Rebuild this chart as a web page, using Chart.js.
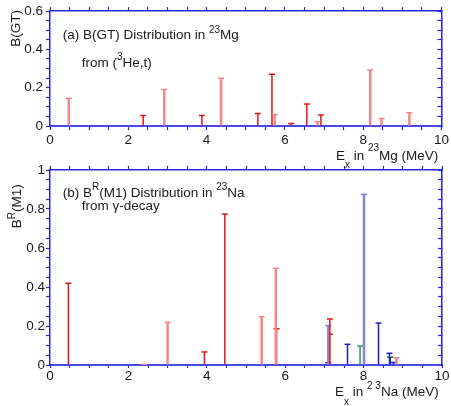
<!DOCTYPE html>
<html>
<head>
<meta charset="utf-8">
<script src="https://cdn.jsdelivr.net/npm/chart.js@4.4.1/dist/chart.umd.min.js"></script>
<style>
body { margin: 0; background: #fff; }
#wrap { position: relative; width: 451px; height: 406px; overflow: hidden; }
canvas { position: absolute; left: 0; }
#top { top: 0; }
#bot { top: 160px; }
</style>
</head>
<body>
<div id="wrap">
  <canvas id="top" width="451" height="172"></canvas>
  <canvas id="bot" width="451" height="246"></canvas>
</div>
<script>
// tick labels
var xTickLabels = [0, 2, 4, 6, 8, 10];
var gtTickLabels = [0, 0.2, 0.4, 0.6];
var m1TickLabels = [0, 0.2, 0.4, 0.6, 0.8, 1];

// (a) B(GT) in 23Mg, Ex in MeV
var gtRedE = [2.38, 3.88, 5.31, 5.67, 6.16, 6.56, 6.92];
var gtRedB = [0.055, 0.055, 0.065, 0.27, 0.013, 0.115, 0.057];
var gtPaleE = [0.48, 2.92, 4.37, 5.74, 6.83, 8.18, 8.47, 9.18];
var gtPaleB = [0.145, 0.19, 0.25, 0.06, 0.024, 0.293, 0.039, 0.069];

// (b) B^R(M1) in 23Na
var m1RedE = [0.47, 3.94, 4.46, 5.78, 7.14];
var m1RedB = [0.419, 0.067, 0.774, 0.186, 0.236];
var m1PaleE = [2.40, 3.00, 5.40, 5.76, 8.84];
var m1PaleB = [0.003, 0.219, 0.248, 0.496, 0.037];
var m1BlueE = [7.59, 8.38, 8.66, 8.76];
var m1BlueB = [0.106, 0.215, 0.06, 0.013];
var m1PaleBlueE = [7.10, 8.01];
var m1PaleBlueB = [0.202, 0.875];
var m1GreenE = [7.91];
var m1GreenB = [0.097];
var m1DarkGreenE = [8.68];
var m1DarkGreenB = [0.04];
// lower limits shown as extra caps
var m1BlueLowE = [7.10];
var m1BlueLowB = [0.012];
var m1RedLowE = [7.14];
var m1RedLowB = [0.158];

var FONT = "'Liberation Sans', Arial, sans-serif";
var AXIS = '#2626d8';
var RED = '#e31414', PALE = '#f08a8a', BLUE = '#1c1cd2', PALEBLUE = '#8282e6';
var GREEN = '#3a9a4a', DKGREEN = '#0b6a22';

function pts(xs, ys) {
    return xs.map(function(x, i) { return {x: x, y: ys[i]}; });
}

function stems(xs, ys, color, w) {
    return [
        {type: 'bar', data: pts(xs, ys), backgroundColor: color, barThickness: w, grouped: false,
         borderWidth: 0, inflateAmount: 0},
        {type: 'scatter', data: pts(xs, ys), pointStyle: 'line', radius: 3, borderColor: color, borderWidth: 1.5}
    ];
}

function caps(xs, ys, color) {
    return {type: 'scatter', data: pts(xs, ys), pointStyle: 'line', radius: 3, borderColor: color, borderWidth: 1.5};
}

function pickLabel(list) {
    return function(v) {
        for (var i = 0; i < list.length; i++) {
            if (Math.abs(list[i] - v) < 1e-6) return String(list[i]);
        }
        return '';
    };
}

function richText(ctx, x, y, parts, size) {
    parts.forEach(function(p) {
        var shift = p[1] || 0;
        var s = shift ? size * 0.74 : size;
        ctx.font = s + 'px ' + FONT;
        ctx.fillText(p[0], x, y + shift);
        x += ctx.measureText(p[0]).width;
    });
}

function notes(items, offY) {
    return {
        id: 'notes',
        afterDraw: function(chart) {
            var ctx = chart.ctx;
            ctx.save();
            ctx.fillStyle = '#1a1a1a';
            ctx.textAlign = 'left';
            ctx.textBaseline = 'alphabetic';
            items.forEach(function(it) {
                ctx.save();
                ctx.translate(it.x, it.y - offY);
                if (it.rot) ctx.rotate(-Math.PI / 2);
                richText(ctx, 0, 0, it.parts, 13.5);
                ctx.restore();
            });
            ctx.restore();
        }
    };
}

function scales(yMax, yLabels, xH, xLen, xPad, yPad) {
    var tickFont = {family: FONT, size: 13.5};
    return {
        x: {
            type: 'linear', min: 0, max: 10, offset: false,
            border: {color: '#4a4ae2', width: 2},
            grid: {drawOnChartArea: false, offset: false, tickLength: xLen, tickColor: AXIS, tickWidth: 1.2},
            ticks: {stepSize: 0.5, autoSkip: false, maxRotation: 0, padding: xPad, color: '#1a1a1a',
                    font: tickFont, callback: pickLabel(xTickLabels)},
            afterFit: function(s) { s.height = xH; }
        },
        xTop: {
            type: 'linear', position: 'top', min: 0, max: 10, offset: false,
            border: {color: AXIS, width: 1.5},
            grid: {drawOnChartArea: false, offset: false, tickLength: 4, tickColor: AXIS, tickWidth: 1.2},
            ticks: {stepSize: 0.5, autoSkip: false, display: false},
            afterFit: function(s) { s.height = 10; }
        },
        y: {
            min: 0, max: yMax,
            border: {color: AXIS, width: 1.5},
            grid: {drawOnChartArea: false, tickLength: 4, tickColor: AXIS, tickWidth: 1.2},
            ticks: {stepSize: 0.05, autoSkip: false, padding: yPad, color: '#1a1a1a',
                    font: tickFont, callback: pickLabel(yLabels)},
            afterFit: function(s) { s.width = 50; }
        },
        yRight: {
            position: 'right', min: 0, max: yMax,
            border: {color: AXIS, width: 1.5},
            grid: {drawOnChartArea: false, tickLength: -4, tickColor: AXIS, tickWidth: 1.2},
            ticks: {stepSize: 0.05, autoSkip: false, display: false},
            afterFit: function(s) { s.width = 9; }
        }
    };
}

var baseOptions = function(sc) {
    return {
        responsive: false,
        animation: false,
        layout: {padding: 0},
        plugins: {legend: {display: false}, tooltip: {enabled: false}},
        scales: sc
    };
};

var topNotes = [
    {x: 62.7, y: 39.3, parts: [['(a) B(GT) Distribution in '], ['23', -6.5], ['Mg']]},
    {x: 81.7, y: 66.7, parts: [['from ('], ['3', -6.5], ['He,t)']]},
    {x: 20, y: 46.7, rot: true, parts: [['B(GT)']]},
    {x: 336, y: 160, parts: [['E'], ['x', 8], [' in '], ['23', -9], ['Mg (MeV)']]}
];

var botNotes = [
    {x: 62.7, y: 196.7, parts: [['(b) B'], ['R', -6.5], ['(M1) Distribution in '], ['23', -6.5], ['Na']]},
    {x: 81.7, y: 209.8, parts: [['from \u03b3-decay']]},
    {x: 21, y: 228.3, rot: true, parts: [['B'], ['R', -6.5], ['(M1)']]},
    {x: 335, y: 396, parts: [['E'], ['x', 8.5], [' in '], ['2 3', -7], ['Na (MeV)']]}
];

new Chart(document.getElementById('top'), {
    type: 'bar',
    data: {datasets: [].concat(
        stems(gtPaleE, gtPaleB, PALE, 2.5),
        stems(gtRedE, gtRedB, RED, 1.5)
    )},
    options: baseOptions(scales(0.6, gtTickLabels, 46, 4, 2, 3)),
    plugins: [notes(topNotes, 0)]
});

new Chart(document.getElementById('bot'), {
    type: 'bar',
    data: {datasets: [].concat(
        stems(m1PaleE, m1PaleB, PALE, 2.5),
        stems(m1RedE, m1RedB, RED, 1.5),
        stems(m1PaleBlueE, m1PaleBlueB, PALEBLUE, 2.5),
        stems(m1BlueE, m1BlueB, BLUE, 1.5),
        stems(m1GreenE, m1GreenB, GREEN, 1.5),
        stems(m1DarkGreenE, m1DarkGreenB, DKGREEN, 1.5),
        [caps(m1BlueLowE, m1BlueLowB, BLUE), caps(m1RedLowE, m1RedLowB, RED)]
    )},
    options: baseOptions(scales(1, m1TickLabels, 41, 3, 0, 1)),
    plugins: [notes(botNotes, 160)]
});
</script>
</body>
</html>
